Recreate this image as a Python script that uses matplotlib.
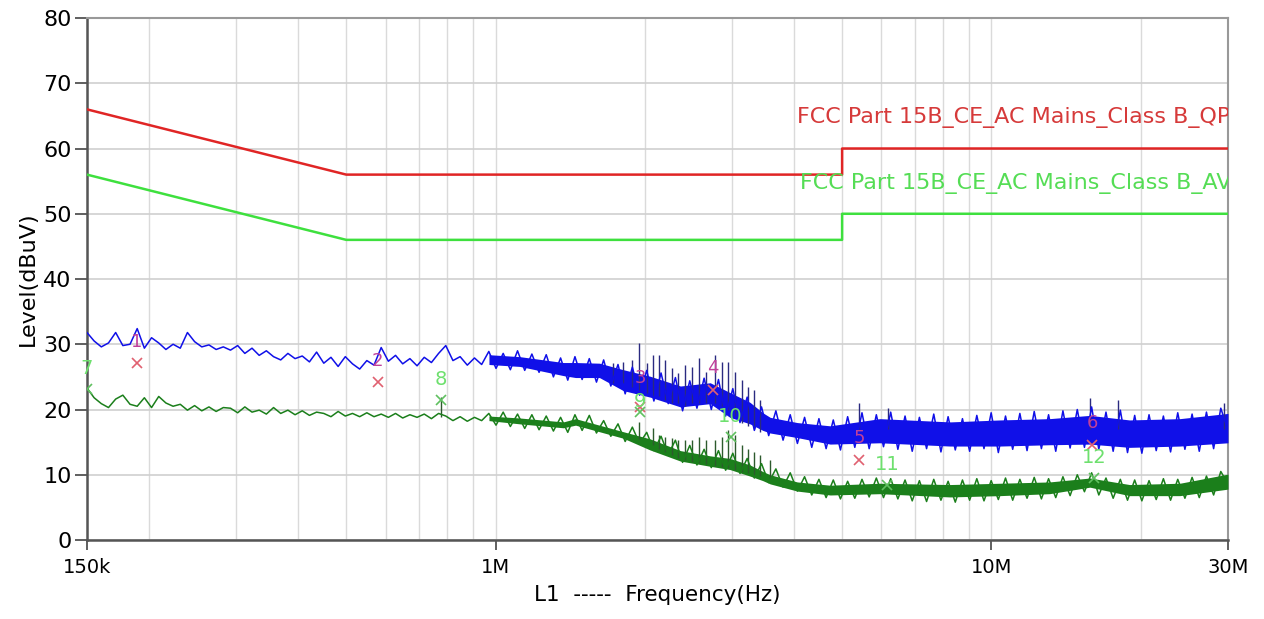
import numpy as np
import matplotlib.pyplot as plt
from matplotlib.ticker import FixedLocator, NullFormatter

plt.rcParams['font.family'] = ['DejaVu Sans']

# limit lines (MHz, dBuV)
qp_limit_mhz = [0.15, 0.5, 5.0, 5.0, 30.0]
qp_limit = [66, 56, 56, 60, 60]
av_limit_mhz = [0.15, 0.5, 5.0, 5.0, 30.0]
av_limit = [56, 46, 46, 50, 50]

# L1 quasi-peak scan (blue), sweep from 150k to 30M
qp_trace = [31.8, 30.5, 29.6, 30.2, 31.8, 29.8, 30.0, 32.4, 29.4, 31.0,
            30.2, 29.2, 30.0, 29.4, 31.8, 30.4, 29.6, 29.9, 29.2, 29.6,
            29.1, 29.8, 28.6, 29.4, 28.3, 29.0, 28.1, 27.6, 28.6, 27.8,
            28.2, 27.3, 28.8, 27.1, 28.0, 26.6, 28.1, 27.0, 26.2, 27.5,
            26.8, 29.5, 27.4, 28.3, 27.0, 27.8, 26.7, 28.0, 27.2, 28.6,
            29.8, 27.5, 28.1, 26.8, 27.9, 26.9,
            28.9, 26.3, 28.6, 26.1, 29.0, 26.0, 28.5, 25.7, 28.4, 25.0,
            27.9, 24.5, 28.1, 24.6, 27.8, 24.2, 27.6, 23.6, 26.9, 22.4,
            26.5, 22.2, 26.0, 21.3, 25.6, 20.9, 24.9, 19.8, 24.4, 20.2,
            24.8, 20.0, 24.6, 19.0, 23.2, 18.0, 21.9, 16.8, 20.4, 16.0,
            19.8, 15.3, 19.2, 14.8, 18.8, 14.2, 18.6, 14.0, 18.4, 13.8,
            18.9, 14.2, 19.5, 14.0, 19.2, 14.3, 19.6, 13.9, 19.0, 13.6,
            18.8, 14.0, 19.3, 13.5, 18.9, 13.8, 18.6, 13.6, 19.1, 14.0,
            19.5, 13.4, 19.0, 13.9, 19.4, 13.7, 19.7, 14.0, 19.2, 13.6,
            19.8, 14.1, 20.0, 14.2, 20.4, 13.9, 19.6, 13.6, 19.9, 13.4,
            19.1, 13.3, 19.2, 13.7, 19.0, 13.5, 19.5, 13.9, 19.3, 13.6,
            19.6, 14.0, 20.2, 16.8]

# L1 average scan (green)
av_trace = [23.3, 21.8, 20.9, 20.3, 21.6, 22.2, 20.8, 20.5, 21.8, 20.3,
            22.0, 21.0, 20.5, 20.8, 19.9, 20.6, 19.8, 20.4, 19.7, 20.3,
            20.2, 19.5, 20.4, 19.6, 19.9, 19.3, 20.3, 19.4, 19.9, 19.2,
            19.8, 19.1, 19.6, 19.4, 18.9, 19.7, 19.0, 19.4, 18.9, 19.5,
            18.9, 19.3, 18.8, 19.4, 18.7, 19.2, 18.8, 19.3, 18.6, 19.4,
            19.0, 18.3, 18.9, 18.2, 18.8, 18.3,
            19.4, 17.6, 19.6, 17.4, 19.3, 17.1, 19.2, 16.9, 19.0, 16.7,
            18.8, 16.5, 19.2, 16.8, 19.1, 16.4, 18.3, 15.9, 17.8, 15.1,
            17.3, 14.8, 16.5, 13.7, 15.9, 13.1, 15.3, 11.9, 14.5, 11.5,
            13.9, 11.1, 13.7, 10.7, 13.3, 10.2, 12.5, 9.5, 11.7, 8.8,
            10.9, 8.1, 10.3, 7.5, 9.7, 6.9, 9.3, 6.5, 9.2, 6.3,
            9.0, 6.4, 9.3, 6.6, 9.5, 6.5, 9.4, 6.3, 9.2, 6.0,
            9.1, 5.9, 9.3, 6.1, 9.0, 5.8, 9.2, 6.1, 9.4, 6.0,
            9.1, 6.2, 9.5, 6.1, 9.3, 6.4, 9.6, 6.3, 9.4, 6.5,
            9.7, 6.8, 10.0, 7.4, 10.3, 6.9, 9.5, 6.4, 9.3, 6.1,
            9.2, 6.0, 9.1, 6.2, 9.4, 6.1, 9.3, 6.4, 9.6, 6.5,
            9.8, 6.9, 10.5, 8.6]

# solid core of the dense part of the scans
env_mhz = [0.97, 1.12, 1.37, 1.45, 1.62, 1.81, 2.05, 2.36, 2.71, 2.97, 3.26, 3.46,
           3.58, 4.06, 4.73, 5.96, 8.25, 10.4, 13.1, 15.8, 19.0, 24.0, 30.0]
qp_core_hi = [28.4, 28.1, 27.2, 27.2, 27.1, 26.1, 25.1, 23.6, 24.1, 22.6, 21.1, 19.5,
              18.8, 18.0, 17.5, 18.6, 18.1, 18.4, 18.6, 19.1, 18.4, 18.6, 19.4]
qp_core_lo = [26.9, 26.6, 25.2, 24.9, 24.9, 22.9, 21.9, 20.4, 20.9, 18.8, 17.8, 16.8,
              16.4, 15.7, 14.7, 14.9, 14.4, 14.4, 14.6, 14.7, 14.2, 14.4, 14.9]
av_core_hi = [19.0, 18.7, 18.1, 18.6, 17.6, 16.6, 15.5, 13.7, 12.9, 12.5, 11.5, 10.5,
              10.0, 8.9, 8.4, 8.7, 8.5, 8.7, 8.9, 9.5, 8.5, 8.7, 10.1]
av_core_lo = [18.3, 17.8, 17.2, 17.6, 16.6, 15.6, 13.8, 12.1, 11.3, 10.8, 9.8, 9.1,
              8.6, 7.5, 6.9, 7.1, 6.6, 6.8, 7.1, 8.1, 6.8, 6.8, 7.8]

# harmonic spikes
qp_spike_mhz = [1.725, 1.806, 1.885, 1.947, 2.020, 2.077, 2.136, 2.196, 2.268, 2.333,
                2.411, 2.490, 2.573, 2.657, 2.771, 2.862, 2.943, 3.040, 3.141, 3.230,
                3.321, 3.414, 5.41, 6.2, 15.8, 18.0, 29.5]
qp_spike_top = [27.1, 27.3, 27.6, 30.2, 27.1, 28.4, 28.4, 27.6, 26.4, 25.6,
                26.8, 26.5, 27.9, 25.7, 28.4, 27.3, 27.3, 25.7, 24.5, 23.4,
                23.0, 21.5, 21.0, 20.3, 21.7, 21.5, 21.0]
qp_spike_base = [24.0, 24.0, 23.5, 23.0, 22.5, 22.0, 22.0, 21.5, 21.0, 21.0,
                 20.5, 21.0, 21.0, 21.0, 21.0, 20.5, 20.0, 19.0, 18.0, 17.5,
                 17.0, 16.5, 17.0, 17.0, 17.0, 17.0, 17.0]
av_spike_mhz = [0.776, 1.947, 2.077, 2.136, 2.196, 2.268, 2.333, 2.411, 2.490, 2.573,
                2.657, 2.771, 2.862, 2.943, 3.040, 3.141, 3.230, 3.321, 3.414, 3.577]
av_spike_top = [21.9, 18.1, 17.2, 16.1, 15.8, 15.6, 15.3, 15.3, 15.3, 15.8,
                15.3, 15.3, 15.8, 16.9, 16.1, 14.5, 14.0, 13.5, 13.0, 12.3]
av_spike_base = [18.8, 15.5, 14.5, 14.0, 13.5, 13.0, 12.5, 12.2, 12.0, 11.8,
                 11.6, 11.4, 11.2, 11.0, 10.8, 10.5, 10.2, 10.0, 9.8, 9.5]

# final measurement markers
qp_mark_mhz = [0.189, 0.579, 1.96, 2.745, 5.41, 15.96]
qp_mark_level = [27.1, 24.2, 20.4, 23.0, 12.3, 14.6]
qp_mark_id = ['1', '2', '3', '4', '5', '6']
av_mark_mhz = [0.15, 0.776, 1.96, 2.98, 6.16, 16.1]
av_mark_level = [23.1, 21.5, 19.6, 15.8, 8.4, 9.5]
av_mark_id = ['7', '8', '9', '10', '11', '12']

# label offsets above each marker (points)
qp_dy = [9, 9, 14, 9, 9, 9]
av_dy = [8, 8, 1, 8, 8, 8]

fig = plt.figure(figsize=(12.64, 6.19), dpi=100)
ax = fig.add_axes([0.0688, 0.1276, 0.9027, 0.8433])

blue = '#1010e8'
dgreen = '#1b7f1b'

qp_f = np.geomspace(0.15, 30, len(qp_trace))
av_f = np.geomspace(0.15, 30, len(av_trace))

ax.fill_between(env_mhz, qp_core_lo, qp_core_hi, color=blue, lw=0, zorder=3)
ax.vlines(qp_spike_mhz, qp_spike_base, qp_spike_top, color='#2a2a80', lw=1.0, zorder=3)
ax.plot(qp_f, qp_trace, color=blue, lw=1.1, zorder=4)

ax.fill_between(env_mhz, av_core_lo, av_core_hi, color=dgreen, lw=0, zorder=3)
ax.vlines(av_spike_mhz, av_spike_base, av_spike_top, color='#2d5a2d', lw=1.0, zorder=3)
ax.plot(av_f, av_trace, color=dgreen, lw=1.1, zorder=4)

ax.plot(qp_limit_mhz, qp_limit, color='#e02525', lw=1.8, zorder=5)
ax.plot(av_limit_mhz, av_limit, color='#3ee03e', lw=1.8, zorder=5)

ax.text(4.055, 64.8, 'FCC Part 15B_CE_AC Mains_Class B_QP', color='#d63a3a',
        fontsize=16, va='center', ha='left', clip_on=True, zorder=6)
ax.text(4.11, 54.7, 'FCC Part 15B_CE_AC Mains_Class B_AV', color='#55dd55',
        fontsize=16, va='center', ha='left', clip_on=True, zorder=6)

ax.plot(qp_mark_mhz, qp_mark_level, 'x', color='#e06070', ms=7, mew=1.2, zorder=6)
for f, lev, s, dy in zip(qp_mark_mhz, qp_mark_level, qp_mark_id, qp_dy):
    ax.annotate(s, (f, lev), xytext=(0, dy), textcoords='offset points', ha='center',
                va='bottom', color='#c0409a', fontsize=13, zorder=7)
ax.plot(av_mark_mhz, av_mark_level, 'x', color='#60c060', ms=7, mew=1.2, zorder=6)
for f, lev, s, dy in zip(av_mark_mhz, av_mark_level, av_mark_id, av_dy):
    ax.annotate(s, (f, lev), xytext=(0, dy), textcoords='offset points', ha='center',
                va='bottom', color='#6ee06e', fontsize=14, zorder=7)

ax.set_xscale('log')
ax.set_xlim(0.15, 30)
ax.set_ylim(0, 80)
ax.set_yticks(range(0, 81, 10))
ax.xaxis.set_major_locator(FixedLocator([0.15, 1, 10, 30]))
ax.set_xticklabels(['150k', '1M', '10M', '30M'])
minor = [m * d for d in (0.1, 1, 10) for m in range(2, 10) if 0.15 < m * d < 30]
ax.xaxis.set_minor_locator(FixedLocator(minor))
ax.xaxis.set_minor_formatter(NullFormatter())
ax.tick_params(axis='x', which='minor', length=0)
ax.tick_params(axis='x', which='major', length=7, width=1.2, color='#444444',
               labelsize=14, pad=6)
ax.tick_params(axis='y', length=9, width=1.2, color='#444444', labelsize=16, pad=2)

ax.grid(True, which='both', axis='x', color='#dadada', lw=1.0)
ax.grid(True, which='major', axis='y', color='#d0d0d0', lw=1.2)
ax.set_axisbelow(True)

for side in ('left', 'bottom'):
    ax.spines[side].set_color('#555555')
    ax.spines[side].set_linewidth(1.8)
for side in ('top', 'right'):
    ax.spines[side].set_color('#999999')
    ax.spines[side].set_linewidth(1.5)

ax.set_xlabel('L1  -----  Frequency(Hz)', fontsize=15.5, labelpad=6)
ax.set_ylabel('Level(dBuV)', fontsize=16, labelpad=4)

fig.savefig('out.png', dpi=100)
